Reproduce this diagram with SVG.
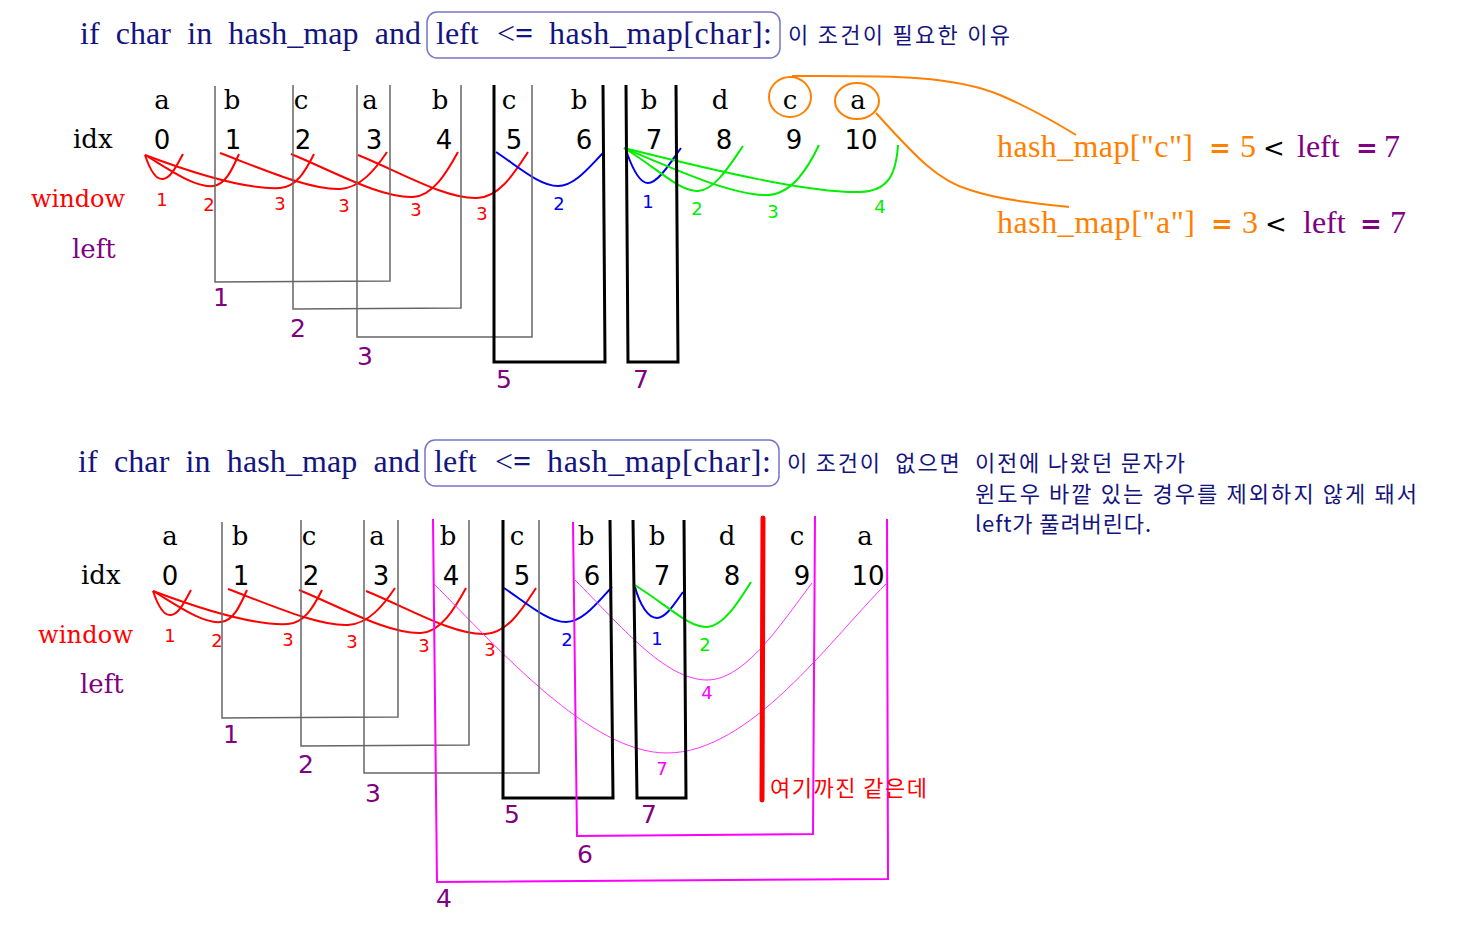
<svg xmlns="http://www.w3.org/2000/svg" xmlns:xlink="http://www.w3.org/1999/xlink" width="1472" height="936" viewBox="0 0 1472 936">
<style>
.hdr{font-family:"Liberation Serif",serif;font-size:32px;fill:#14147e;white-space:pre}
.kr{font-family:"Noto Sans CJK KR","Noto Sans",sans-serif;font-size:22px;fill:#14147e;white-space:pre}
.let{font-family:"DejaVu Serif",serif;font-size:26px;fill:#000;text-anchor:middle}
.num{font-family:"DejaVu Sans",sans-serif;font-size:26px;fill:#000;text-anchor:middle}
.lbl{font-family:"DejaVu Serif",serif;font-size:26px}
.win{font-family:"DejaVu Serif",serif;font-size:24px;fill:#ff0000}
.pn{font-family:"DejaVu Sans",sans-serif;font-size:25px;fill:#800080;text-anchor:middle}
.sm{font-family:"DejaVu Sans",sans-serif;font-size:18px;text-anchor:middle}
.or{font-family:"Liberation Serif",serif;font-size:32px;fill:#ff8000}
.eq{font-family:"DejaVu Sans",sans-serif;font-size:26px;font-weight:bold}
.lt{font-family:"DejaVu Sans",sans-serif;font-size:26px;font-weight:normal;fill:#000}
.gray{fill:none;stroke:#666;stroke-width:1.5}
.blk{fill:none;stroke:#000;stroke-width:3}
.mag{fill:none;stroke:#ff00ff;stroke-width:2}
.magc{fill:none;stroke:#ff33ff;stroke-width:1}
.rc{fill:none;stroke:#ff0000;stroke-width:2}
.bc{fill:none;stroke:#0000ee;stroke-width:2}
.gc{fill:none;stroke:#00ee00;stroke-width:2}
.oc{fill:none;stroke:#ff8000;stroke-width:2}
</style>
<defs>
<g id="redcurves">
<path class="rc" d="M145,155 C150,170 156,180 163,179 C171,178 177,165 183,154"/>
<path class="rc" d="M145,155 C170,170 195,188 213,186 C225,185 232,170 239,154"/>
<path class="rc" d="M145,155 C190,172 245,190 280,188 C296,187 305,172 314,154"/>
<path class="rc" d="M220,153 C265,170 310,190 340,189 C360,188 375,170 387,152"/>
<path class="rc" d="M291,154 C335,172 380,198 413,197 C433,196 447,172 458,152"/>
<path class="rc" d="M358,155 C400,172 445,199 477,198 C500,197 515,172 528,152"/>
</g>
<g id="redlabels" fill="#ff0000">
<text class="sm" x="162" y="206">1</text>
<text class="sm" x="209" y="211">2</text>
<text class="sm" x="280" y="210">3</text>
<text class="sm" x="344" y="212">3</text>
<text class="sm" x="416" y="216">3</text>
<text class="sm" x="482" y="220">3</text>
</g>
</defs>
<rect width="1472" height="936" fill="#fff"/>

<!-- TOP SECTION -->
<g id="top-header">
<text class="hdr" x="80" y="44" textLength="341">if  char  in  hash_map  and</text>
<rect x="427" y="12" width="353" height="46" rx="10" fill="none" stroke="#7575c5" stroke-width="1.5"/>
<text class="hdr" x="436" y="44">left</text>
<text class="hdr" x="497" y="44">&lt;</text>
<text class="hdr" x="515" y="44" style="font-weight:bold">=</text>
<text class="hdr" x="549" y="44" textLength="223">hash_map[char]:</text>
<text class="kr" x="788" y="43" textLength="222">이 조건이 필요한 이유</text>
</g>

<g id="top-row-labels">
<text class="lbl" x="73" y="148" fill="#000">idx</text>
<text class="win" x="31" y="207" textLength="94">window</text>
<text class="lbl" x="72" y="258" fill="#800080">left</text>
</g>

<g id="top-letters">
<text class="let" x="162" y="109">a</text>
<text class="let" x="232" y="109">b</text>
<text class="let" x="301" y="109">c</text>
<text class="let" x="370" y="109">a</text>
<text class="let" x="440" y="109">b</text>
<text class="let" x="509" y="109">c</text>
<text class="let" x="579" y="109">b</text>
<text class="let" x="649" y="109">b</text>
<text class="let" x="720" y="109">d</text>
<text class="let" x="790" y="109">c</text>
<text class="let" x="858" y="109">a</text>
</g>
<g id="top-idx">
<text class="num" x="162" y="149">0</text>
<text class="num" x="233" y="149">1</text>
<text class="num" x="303" y="149">2</text>
<text class="num" x="374" y="149">3</text>
<text class="num" x="444" y="149">4</text>
<text class="num" x="514" y="149">5</text>
<text class="num" x="584" y="149">6</text>
<text class="num" x="654" y="149">7</text>
<text class="num" x="724" y="149">8</text>
<text class="num" x="794" y="149">9</text>
<text class="num" x="861" y="149">10</text>
</g>

<g id="top-windows">
<use xlink:href="#redcurves"/>
<use xlink:href="#redlabels"/>
<path class="bc" d="M496,152 C520,168 540,186 558,186 C575,186 590,166 604,152"/>
<path class="bc" d="M627,153 C633,170 640,183 648,183 C658,183 670,163 681,148"/>
<path class="gc" d="M624,148 C660,170 680,192 698,191 C715,190 730,165 743,146"/>
<path class="gc" d="M624,148 C680,172 735,196 768,195 C792,194 808,168 819,145"/>
<path class="gc" d="M624,148 C720,172 810,193 860,192 C888,191 896,175 898,145"/>
<text class="sm" x="559" y="210" fill="#0000ee">2</text>
<text class="sm" x="648" y="208" fill="#0000ee">1</text>
<text class="sm" x="697" y="215" fill="#00ee00">2</text>
<text class="sm" x="773" y="218" fill="#00ee00">3</text>
<text class="sm" x="880" y="213" fill="#00ee00">4</text>
</g>

<g id="top-left-brackets">
<path class="gray" d="M215,86 L215,282 L390,281 L390,85"/>
<path class="gray" d="M293,85 L293,309 L461,308 L461,85"/>
<path class="gray" d="M357,85 L357,337 L532,337 L532,85"/>
<path class="blk" d="M494,85 L494,362 L605,362 L603,85"/>
<path class="blk" d="M626,85 L628,362 L678,362 L676,85"/>
<text class="pn" x="221" y="306">1</text>
<text class="pn" x="298" y="337">2</text>
<text class="pn" x="365" y="365">3</text>
<text class="pn" x="504" y="388">5</text>
<text class="pn" x="641" y="388">7</text>
</g>

<g id="top-annotation">
<ellipse class="oc" cx="790" cy="97" rx="21" ry="20" stroke-width="2.5"/>
<ellipse class="oc" cx="857" cy="101" rx="22" ry="18" stroke-width="2.5"/>
<path class="oc" d="M792,76 C880,76 950,74 1000,95 C1030,108 1055,122 1076,135"/>
<path class="oc" d="M876,113 C910,150 935,180 970,190 C1000,200 1040,204 1069,207"/>
<text class="or" x="997" y="157" textLength="196">hash_map["c"]</text>
<text class="eq" x="1209" y="157" fill="#ff8000">=</text>
<text class="or" x="1240" y="157">5</text>
<text class="lt" x="1263" y="157">&lt;</text>
<text class="or" x="1297" y="157" fill="#800080" style="fill:#800080">left</text>
<text class="eq" x="1356" y="157" fill="#800080">=</text>
<text class="or" x="1384" y="157" style="fill:#800080">7</text>
<text class="or" x="997" y="233" textLength="198">hash_map["a"]</text>
<text class="eq" x="1211" y="233" fill="#ff8000">=</text>
<text class="or" x="1242" y="233">3</text>
<text class="lt" x="1265" y="233">&lt;</text>
<text class="or" x="1303" y="233" style="fill:#800080">left</text>
<text class="eq" x="1360" y="233" fill="#800080">=</text>
<text class="or" x="1390" y="233" style="fill:#800080">7</text>
</g>

<!-- BOTTOM SECTION -->
<g id="bottom-header">
<text class="hdr" x="78" y="472" textLength="342">if  char  in  hash_map  and</text>
<rect x="425" y="440" width="354" height="46" rx="10" fill="none" stroke="#7575c5" stroke-width="1.5"/>
<text class="hdr" x="434" y="472">left</text>
<text class="hdr" x="495" y="472">&lt;</text>
<text class="hdr" x="513" y="472" style="font-weight:bold">=</text>
<text class="hdr" x="547" y="472" textLength="224">hash_map[char]:</text>
<text class="kr" x="787" y="471" textLength="398">이 조건이  없으면  이전에 나왔던 문자가</text>
<text class="kr" x="975" y="502" textLength="442">윈도우 바깥 있는 경우를 제외하지 않게 돼서</text>
<text class="kr" x="975" y="532" textLength="176">left가 풀려버린다.</text>
</g>

<g id="bottom-row-labels">
<text class="lbl" x="81" y="584" fill="#000">idx</text>
<text class="win" x="38" y="643" textLength="95">window</text>
<text class="lbl" x="80" y="693" fill="#800080">left</text>
</g>

<g id="bottom-letters">
<text class="let" x="170" y="545">a</text>
<text class="let" x="240" y="545">b</text>
<text class="let" x="309" y="545">c</text>
<text class="let" x="377" y="545">a</text>
<text class="let" x="448" y="545">b</text>
<text class="let" x="517" y="545">c</text>
<text class="let" x="586" y="545">b</text>
<text class="let" x="657" y="545">b</text>
<text class="let" x="727" y="545">d</text>
<text class="let" x="797" y="545">c</text>
<text class="let" x="865" y="545">a</text>
</g>
<g id="bottom-idx">
<text class="num" x="170" y="585">0</text>
<text class="num" x="241" y="585">1</text>
<text class="num" x="311" y="585">2</text>
<text class="num" x="381" y="585">3</text>
<text class="num" x="451" y="585">4</text>
<text class="num" x="522" y="585">5</text>
<text class="num" x="592" y="585">6</text>
<text class="num" x="662" y="585">7</text>
<text class="num" x="732" y="585">8</text>
<text class="num" x="802" y="585">9</text>
<text class="num" x="868" y="585">10</text>
</g>

<g id="bottom-windows">
<use xlink:href="#redcurves" transform="translate(8,436)"/>
<use xlink:href="#redlabels" transform="translate(8,436)"/>
<path class="bc" d="M504,588 C528,604 548,622 566,622 C583,622 598,602 612,587"/>
<path class="bc" d="M635,587 C640,605 648,618 657,618 C666,618 675,603 683,592"/>
<path class="gc" d="M633,584 C669,606 689,628 707,627 C724,626 739,601 751,582"/>
<path class="magc" d="M575,580 C620,625 665,680 707,680 C745,680 780,625 812,583"/>
<path class="magc" d="M433,583 C500,650 590,753 667,753 C750,753 830,640 886,584"/>
<text class="sm" x="567" y="646" fill="#0000ee">2</text>
<text class="sm" x="657" y="645" fill="#0000ee">1</text>
<text class="sm" x="705" y="651" fill="#00ee00">2</text>
<text class="sm" x="707" y="699" fill="#ff00ff">4</text>
<text class="sm" x="662" y="775" fill="#ff00ff">7</text>
</g>

<g id="bottom-left-brackets">
<path class="gray" d="M222,522 L222,718 L398,717 L398,520"/>
<path class="gray" d="M301,520 L301,746 L469,745 L469,520"/>
<path class="gray" d="M364,520 L364,773 L539,773 L539,520"/>
<path class="blk" d="M503,520 L503,798 L613,798 L610,520"/>
<path class="blk" d="M633,520 L637,798 L686,798 L684,520"/>
<path class="mag" d="M433,519 L437,882 L888,879 L887,519"/>
<path class="mag" d="M573,522 L577,836 L813,834 L815,516"/>
<text class="pn" x="231" y="743">1</text>
<text class="pn" x="306" y="773">2</text>
<text class="pn" x="373" y="802">3</text>
<text class="pn" x="444" y="907">4</text>
<text class="pn" x="512" y="823">5</text>
<text class="pn" x="649" y="823">7</text>
<text class="pn" x="585" y="863">6</text>
</g>

<g id="bottom-marker">
<path d="M763,518 L762,800" stroke="#ff0000" stroke-width="5" stroke-linecap="round" fill="none"/>
<text class="kr" x="770" y="796" style="fill:#ff0000" textLength="157">여기까진 같은데</text>
</g>
</svg>
